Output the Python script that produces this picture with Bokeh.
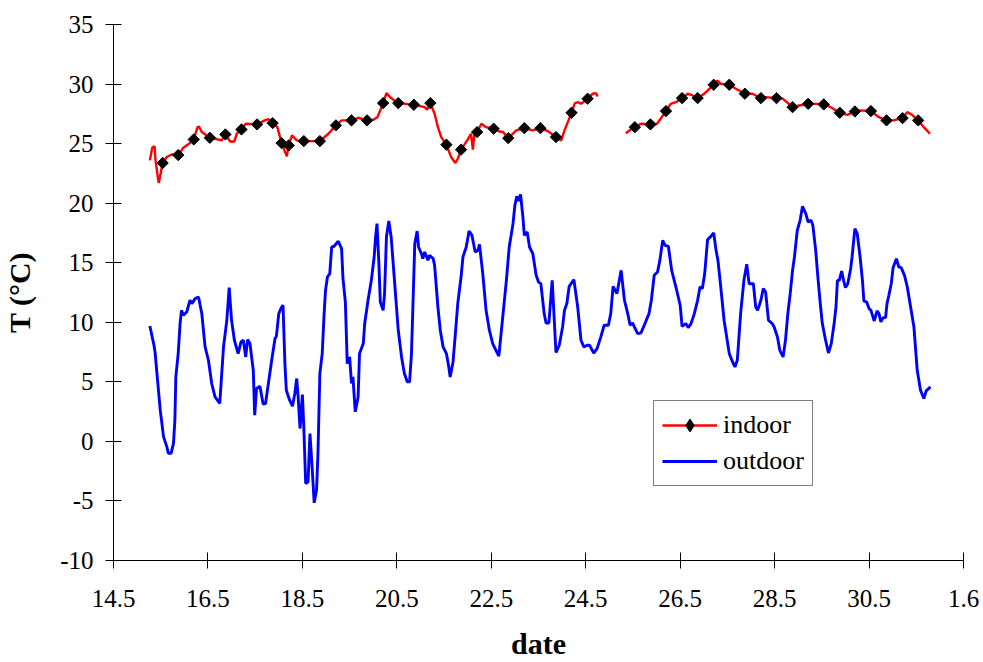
import numpy as np
from bokeh.plotting import figure
from bokeh.models import Range1d, FixedTicker, Legend, LegendItem
from bokeh.embed import file_html
from bokeh.resources import INLINE

# ---- data: day of month (May, fractional), temperature in degC ----
outdoor_t = [15.27, 15.35, 15.38, 15.42, 15.49, 15.56, 15.63, 15.66, 15.72, 15.77, 15.80, 15.82, 15.87, 15.91,
             15.94, 15.98, 16.05, 16.12, 16.16, 16.23, 16.30, 16.37, 16.44, 16.51, 16.58, 16.65, 16.75, 16.83,
             16.90, 16.95, 17.00, 17.06, 17.14, 17.20, 17.25, 17.30, 17.34, 17.39, 17.46, 17.49, 17.53, 17.60,
             17.67, 17.72, 17.78, 17.85, 17.92, 17.95, 18.00, 18.06, 18.09, 18.13, 18.16, 18.23, 18.29, 18.34,
             18.38, 18.41, 18.45, 18.50, 18.53, 18.57, 18.62, 18.66, 18.71, 18.75, 18.80, 18.83, 18.87, 18.92,
             18.96, 18.99, 19.03, 19.08, 19.12, 19.17, 19.26, 19.33, 19.36, 19.41, 19.45, 19.50, 19.54, 19.57,
             19.62, 19.68, 19.71, 19.79, 19.82, 19.89, 19.96, 20.02, 20.05, 20.08, 20.12, 20.15, 20.21, 20.24,
             20.28, 20.33, 20.38, 20.45, 20.53, 20.60, 20.66, 20.72, 20.77, 20.81, 20.84, 20.88, 20.93, 20.96,
             21.02, 21.05, 21.09, 21.16, 21.19, 21.27, 21.30, 21.37, 21.42, 21.48, 21.55, 21.60, 21.63, 21.69,
             21.74, 21.79, 21.86, 21.90, 21.97, 22.03, 22.09, 22.16, 22.22, 22.25, 22.32, 22.39, 22.46, 22.53,
             22.60, 22.66, 22.75, 22.82, 22.88, 22.96, 23.00, 23.04, 23.08, 23.12, 23.17, 23.20, 23.26, 23.31,
             23.38, 23.45, 23.50, 23.55, 23.62, 23.66, 23.72, 23.79, 23.87, 23.94, 24.01, 24.05, 24.10, 24.15,
             24.25, 24.33, 24.40, 24.46, 24.53, 24.58, 24.67, 24.74, 24.82, 24.89, 24.98, 25.03, 25.08, 25.16,
             25.25, 25.32, 25.39, 25.44, 25.49, 25.60, 25.67, 25.74, 25.84, 25.89, 25.95, 26.02, 26.07, 26.13,
             26.18, 26.25, 26.32, 26.41, 26.50, 26.54, 26.62, 26.67, 26.73, 26.80, 26.87, 26.92, 26.97, 27.02,
             27.08, 27.15, 27.21, 27.26, 27.30, 27.36, 27.43, 27.54, 27.61, 27.66, 27.71, 27.78, 27.85, 27.91,
             27.96, 28.05, 28.10, 28.14, 28.21, 28.26, 28.31, 28.37, 28.45, 28.49, 28.56, 28.61, 28.68, 28.73,
             28.78, 28.83, 28.88, 28.92, 28.98, 29.04, 29.09, 29.16, 29.21, 29.27, 29.31, 29.37, 29.41, 29.46,
             29.51, 29.58, 29.64, 29.70, 29.76, 29.80, 29.83, 29.87, 29.92, 29.96, 30.00, 30.05, 30.11, 30.14,
             30.20, 30.25, 30.31, 30.36, 30.39, 30.45, 30.50, 30.54, 30.61, 30.67, 30.71, 30.75, 30.80, 30.85,
             30.88, 30.92, 30.97, 31.01, 31.08, 31.13, 31.18, 31.25, 31.31, 31.38, 31.45, 31.52, 31.59, 31.66,
             31.71, 31.80]
outdoor_v = [9.69, 8.21, 7.51, 5.70, 2.62, 0.38, -0.46, -1.0, -1.0, -0.17, 1.78, 5.41, 7.37, 9.89,
             11.0, 10.59, 10.86, 11.85, 11.57, 11.99, 12.12, 10.73, 7.93, 6.81, 4.86, 3.73, 3.18, 7.93,
             10.17, 12.91, 10.17, 8.49, 7.37, 8.35, 8.49, 7.09, 8.55, 8.21, 5.97, 2.20, 4.44, 4.63,
             3.12, 3.18, 4.86, 6.81, 8.63, 8.83, 10.73, 11.28, 11.43, 6.53, 4.30, 3.46, 2.95, 4.02,
             5.28, 3.73, 1.08, 3.93, 1.22, -3.53, -3.40, 0.66, -2.42, -5.16, -4.09, -1.0, 5.70, 7.37,
             10.73, 12.68, 13.80, 14.09, 16.32, 16.38, 16.80, 16.18, 13.67, 11.70, 6.53, 7.09, 4.86, 5.41,
             2.48, 3.73, 7.37, 8.21, 9.90, 11.85, 13.52, 15.48, 17.16, 18.28, 14.92, 11.70, 11.0, 12.40,
             17.16, 18.50, 17.16, 13.52, 9.33, 7.09, 5.70, 5.0, 5.0, 7.37, 11.28, 16.6, 17.66, 16.32,
             15.76, 15.34, 15.90, 15.20, 15.62, 15.34, 14.78, 11.28, 9.33, 7.93, 7.37, 6.25, 5.41, 6.67,
             9.05, 11.57, 13.80, 15.48, 16.32, 17.66, 17.30, 15.90, 16.04, 16.54, 14.09, 11.0, 9.33, 8.21,
             7.65, 7.15, 10.73, 13.52, 16.32, 18.28, 19.82, 20.57, 20.18, 20.74, 18.83, 17.30, 17.58, 16.32,
             15.76, 13.94, 13.38, 13.24, 10.73, 9.94, 9.94, 13.52, 7.46, 8.07, 9.61, 11.0, 11.57, 13.02,
             13.58, 11.28, 8.49, 7.93, 8.07, 8.07, 7.42, 7.79, 8.77, 9.75, 9.75, 10.73, 13.02, 12.40,
             14.36, 11.85, 10.73, 9.75, 9.94, 9.05, 9.11, 9.75, 10.73, 11.85, 13.94, 14.22, 15.20, 16.88,
             16.46, 16.38, 14.36, 12.96, 11.43, 9.66, 9.89, 9.55, 9.89, 10.73, 11.85, 12.96, 12.83, 14.09,
             16.94, 17.21, 17.49, 16.04, 15.20, 12.96, 10.17, 7.37, 6.67, 6.25, 6.81, 10.73, 13.52, 14.87,
             13.24, 13.24, 11.28, 11.0, 11.85, 12.83, 12.54, 10.17, 9.89, 9.61, 8.77, 7.65, 7.09, 8.49,
             10.73, 12.40, 14.36, 15.48, 17.72, 18.56, 19.73, 19.12, 18.42, 18.56, 18.14, 16.04, 14.09, 11.85,
             9.89, 8.49, 7.42, 8.21, 9.89, 11.28, 13.52, 13.52, 14.30, 13.52, 12.91, 13.24, 14.50, 15.48,
             17.86, 17.44, 15.48, 13.52, 11.79, 11.70, 11.15, 11.0, 10.11, 10.95, 10.73, 10.03, 10.39, 10.39,
             11.57, 12.27, 13.24, 14.59, 15.34, 14.64, 14.59, 13.94, 12.96, 11.28, 9.61, 5.97, 4.30, 3.60,
             4.24, 4.58]

# indoor readings shown with markers (every ~8 h)
indoor_mark_t = [15.54, 15.87, 16.20, 16.54, 16.87, 17.21, 17.54, 17.87, 18.06, 18.21, 18.53, 18.87,
                 19.21, 19.54, 19.87, 20.21, 20.53, 20.86, 21.21, 21.55, 21.86, 22.20, 22.55, 22.86,
                 23.20, 23.54, 23.87, 24.20, 24.54, 25.54, 25.87, 26.20, 26.54, 26.87, 27.21, 27.54,
                 27.87, 28.21, 28.54, 28.88, 29.21, 29.54, 29.88, 30.20, 30.54, 30.87, 31.21, 31.54]
indoor_mark_v = [23.37, 24.04, 25.35, 25.49, 25.77, 26.19, 26.61, 26.72, 25.04, 24.85, 25.21, 25.21,
                 26.53, 26.95, 26.95, 28.40, 28.40, 28.26, 28.40, 24.91, 24.49, 25.97, 26.25, 25.46,
                 26.30, 26.30, 25.55, 27.59, 28.77, 26.38, 26.61, 27.73, 28.82, 28.82, 29.94, 29.94,
                 29.19, 28.82, 28.82, 28.06, 28.34, 28.29, 27.59, 27.70, 27.73, 26.95, 27.14, 26.95]

# indoor readings in between the marked ones (NaN = logger gap)
indoor_mid_t = [15.27, 15.32, 15.37, 15.39, 15.44, 15.46, 15.63, 15.73, 15.98, 16.10, 16.28, 16.31, 16.37,
                16.65, 16.79, 16.97, 17.06, 17.11, 17.30, 17.70, 17.78, 17.97, 18.17, 18.28, 18.38, 19.05,
                19.33, 19.68, 20.00, 20.09, 20.28, 20.37, 21.09, 21.14, 21.30, 21.37, 21.44, 21.65, 21.74,
                21.79, 21.99, 22.07, 22.11, 22.14, 22.29, 22.39, 22.67, 22.75, 23.03, 23.38, 23.70, 23.98,
                24.05, 24.27, 24.34, 24.40, 24.65, 24.72, 24.75, 25.05, 25.35, 25.44, 25.67, 26.01, 26.30,
                26.41, 26.66, 26.76, 27.01, 27.29, 27.36, 27.68, 28.03, 28.31, 28.67, 29.02, 29.37, 29.69,
                30.04, 30.32, 30.71, 31.02, 31.31, 31.41, 31.66, 31.79]
indoor_mid_v = [23.59, 24.66, 24.77, 23.59, 22.14, 21.69, 23.87, 24.09, 24.66, 24.99, 26.38, 26.44, 25.97,
                25.41, 25.27, 25.18, 25.18, 25.83, 26.67, 26.95, 27.06, 26.38, 23.93, 25.69, 25.27, 25.83,
                26.95, 27.17, 27.0, 27.22, 29.24, 28.85, 28.06, 27.84, 27.51, 26.38, 25.55, 23.87, 23.37,
                23.73, 25.27, 25.83, 24.49, 25.69, 26.67, 26.38, 26.02, 25.97, 26.11, 26.11, 26.05, 25.27,
                26.11, 28.40, 28.48, 28.34, 29.19, 29.24, 28.96, float("nan"), 25.87, 26.15, 26.67, 26.67, 28.34,
                28.48, 29.19, 29.04, 29.19, 30.30, 30.02, 29.61, 29.19, 28.90, 28.77, 28.20, 28.34, 28.06,
                27.42, 27.79, 27.22, 26.95, 27.64, 27.42, 26.38, 25.83]

x_ticks = [14.5, 16.5, 18.5, 20.5, 22.5, 24.5, 26.5, 28.5, 30.5, 32.5]
x_tick_labels = ["14.5", "16.5", "18.5", "20.5", "22.5", "24.5", "26.5", "28.5", "30.5", "1.6"]
y_ticks = [-10, -5, 0, 5, 10, 15, 20, 25, 30, 35]
y_tick_labels = ["-10", "-5", "0", "5", "10", "15", "20", "25", "30", "35"]

# full indoor trace: marked and intermediate readings in time order
ind_t = np.array(indoor_mark_t + indoor_mid_t)
ind_v = np.array(indoor_mark_v + indoor_mid_v)
order = np.argsort(ind_t)
ind_t, ind_v = ind_t[order], ind_v[order]

SERIF = "Liberation Serif"

p = figure(width=983, height=662, output_backend="svg", toolbar_location=None,
           x_range=Range1d(14.5, 32.5), y_range=Range1d(-10, 35),
           min_border_left=112, min_border_right=20, min_border_top=24, min_border_bottom=102)
p.outline_line_color = None
p.xgrid.visible = False
p.ygrid.visible = False
p.background_fill_color = "white"
p.border_fill_color = "white"

r_in = p.line(ind_t, ind_v, line_color="#FF0000", line_width=2.4)
# diamond key for the legend; sits underneath the first indoor marker
r_key = p.scatter(indoor_mark_t[:1], indoor_mark_v[:1], marker="diamond", size=11,
                  fill_color="black", line_color="black")
r_mk = p.scatter(indoor_mark_t, indoor_mark_v, marker="square", angle=np.pi / 4, size=8,
                 fill_color="black", line_color="black")
r_out = p.line(outdoor_t, outdoor_v, line_color="#0000FF", line_width=2.9)

for ax, ticks, labels in ((p.xaxis[0], x_ticks, x_tick_labels), (p.yaxis[0], y_ticks, y_tick_labels)):
    ax.ticker = FixedTicker(ticks=ticks, minor_ticks=[])
    ax.major_label_overrides = {t: l for t, l in zip(ticks, labels)}
    ax.axis_line_color = "black"
    ax.axis_line_width = 1
    ax.major_tick_line_color = "black"
    ax.major_tick_in = 8
    ax.major_tick_out = 8
    ax.minor_tick_line_color = None
    ax.major_label_text_font = SERIF
    ax.major_label_text_font_size = "25px"
    ax.major_label_text_color = "black"
    ax.axis_label_text_font = SERIF
    ax.axis_label_text_font_size = "30px"
    ax.axis_label_text_font_style = "bold"
    ax.axis_label_text_color = "black"

p.xaxis.axis_label = "date"
p.yaxis.axis_label = "T (°C)"
p.xaxis.major_label_standoff = 21
p.yaxis.major_label_standoff = 12
p.xaxis.axis_label_standoff = 17
p.yaxis.axis_label_standoff = 21

legend = Legend(items=[LegendItem(label="indoor", renderers=[r_in, r_key]),
                       LegendItem(label="outdoor", renderers=[r_out])],
                location=(540, 74), orientation="vertical",
                label_text_font=SERIF, label_text_font_size="26px", label_text_color="black",
                glyph_width=55, glyph_height=32, label_height=32, label_standoff=6,
                spacing=4, padding=8, margin=0,
                border_line_color="black", border_line_width=1,
                background_fill_color="white", background_fill_alpha=1)
p.add_layout(legend, "center")

open("out.html", "w").write(file_html(p, INLINE))
